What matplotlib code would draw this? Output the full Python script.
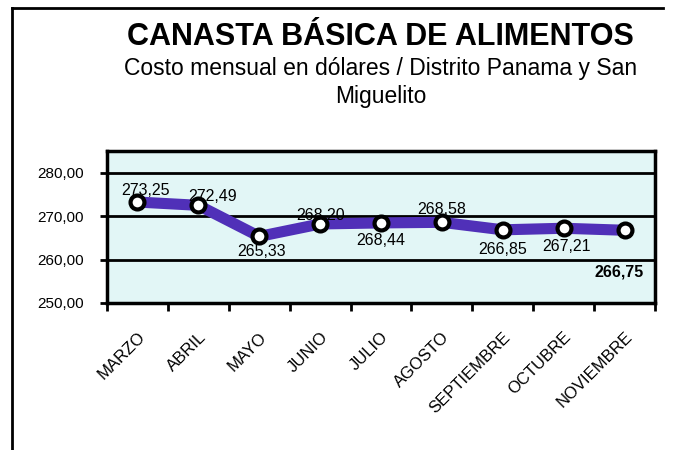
import numpy as np
import matplotlib.pyplot as plt
from matplotlib.lines import Line2D

months = ["MARZO", "ABRIL", "MAYO", "JUNIO", "JULIO", "AGOSTO",
          "SEPTIEMBRE", "OCTUBRE", "NOVIEMBRE"]
costs = [273.25, 272.49, 265.33, 268.20, 268.44, 268.58, 266.85, 267.21, 266.75]
yticks = [250, 260, 270, 280]

plt.rcParams['font.family'] = ['Liberation Sans', 'DejaVu Sans']

fig = plt.figure(figsize=(6.73, 4.5), dpi=100)
ax = fig.add_axes([107 / 673, 1 - 303 / 450, 548 / 673, 152 / 450])
ax.set_facecolor('#e2f6f6')

x = np.arange(len(months))
ax.plot(x, costs, color='#5030b8', lw=8, solid_capstyle='round', zorder=3)
ax.plot(x, costs, 'o', ms=10, mfc='white', mec='black', mew=3, zorder=4)

# data labels: (dx points, dy points, bold)
offs = [(6, 8, False),
        (10, 6, False),
        (2, -11, False),
        (0, 6, False),
        (0, -13, False),
        (0, 9, False),
        (0, -14, False),
        (2, -13, False),
        (-4, -30, True)]
for i, (v, o) in enumerate(zip(costs, offs)):
    lab = f"{v:.2f}".replace('.', ',')
    ax.annotate(lab, (i, v), xytext=(o[0], o[1]), textcoords='offset points',
                ha='center', va='center', fontsize=11.5,
                fontweight='bold' if o[2] else 'normal', zorder=5)

ax.set_xlim(-0.5, len(months) - 0.5)
ax.set_ylim(250, 285)
ax.set_yticks(yticks)
ax.set_yticklabels([f"{t:.2f}".replace('.', ',') for t in yticks], fontsize=11)
for t in yticks[1:]:
    ax.axhline(t, color='black', lw=2, zorder=2)

ax.set_xticks(x)
ax.set_xticklabels(months, rotation=45, ha='right', rotation_mode='anchor',
                   fontsize=12)
ax.tick_params(axis='x', length=0, pad=19)
ax.set_xticks(np.arange(-0.5, len(months)), minor=True)
ax.tick_params(axis='x', which='minor', length=6, width=2, direction='out')
ax.tick_params(axis='y', length=5, width=2, direction='out', pad=12)

for s in ax.spines.values():
    s.set_linewidth(2.5)
    s.set_color('black')

fig.text(0.566, 1 - 37 / 450, "CANASTA BÁSICA DE ALIMENTOS", ha='center',
         va='center', fontsize=22, fontweight='bold')
fig.text(0.566, 1 - 68 / 450, "Costo mensual en dólares / Distrito Panama y San",
         ha='center', va='center', fontsize=16.5)
fig.text(0.566, 1 - 97 / 450, "Miguelito", ha='center', va='center', fontsize=16.5)

# outer frame
fig.add_artist(Line2D([0.018, 0.018], [0.0, 0.982], color='black', lw=2,
                      transform=fig.transFigure))
fig.add_artist(Line2D([0.018, 0.985], [0.982, 0.982], color='black', lw=2,
                      transform=fig.transFigure))

fig.savefig('out.png', dpi=100)
